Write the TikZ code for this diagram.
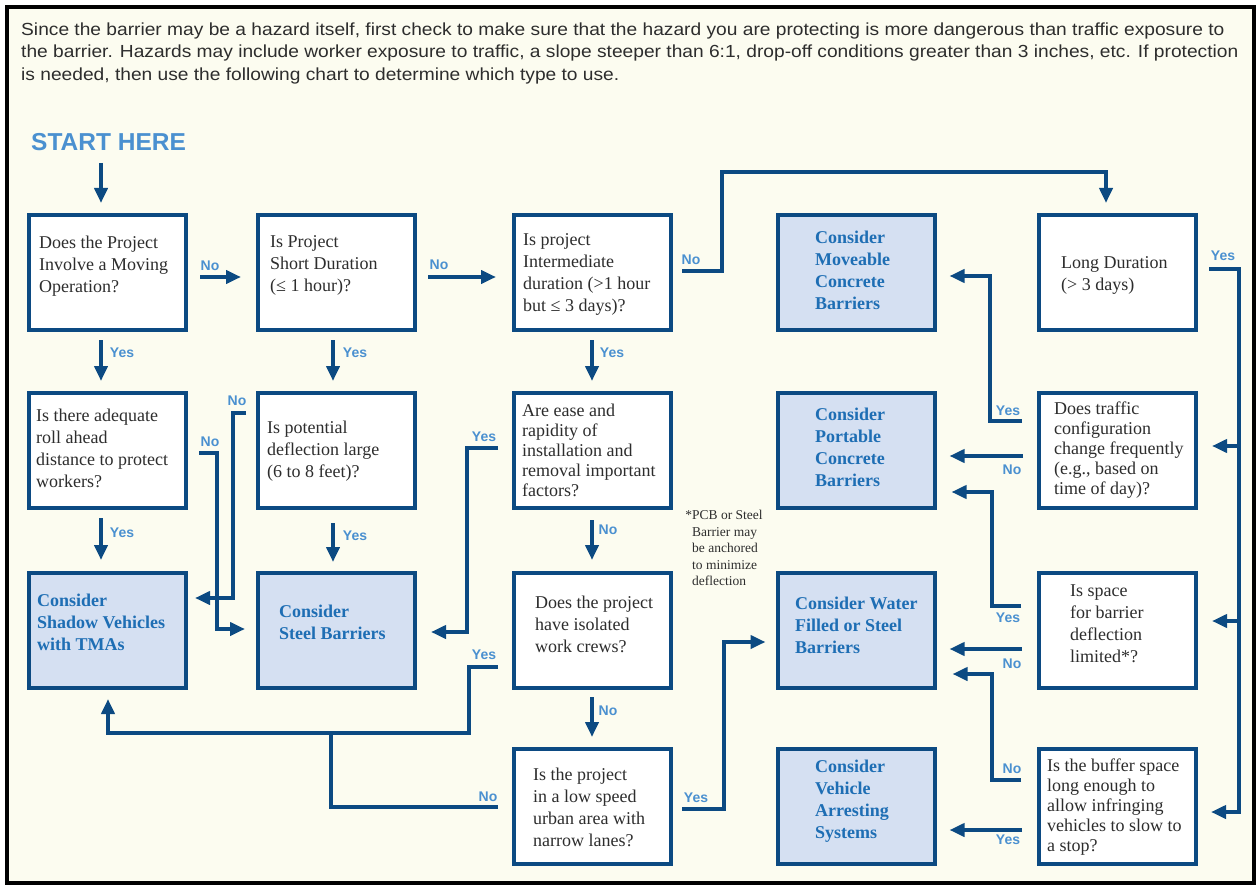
\documentclass[tikz,border=0pt]{standalone}
\usepackage{fontspec}
\setmainfont{Liberation Serif}
\newfontfamily\arialf{Liberation Sans}
\newfontfamily\arialw[FakeStretch=1.096]{Liberation Sans}
\usetikzlibrary{arrows.meta,calc}
\definecolor{navy}{RGB}{12,74,130}
\definecolor{lblue}{RGB}{74,144,208}
\definecolor{bblue}{RGB}{30,110,180}
\definecolor{boxfill}{RGB}{213,224,242}
\definecolor{cream}{RGB}{252,252,240}
\definecolor{txt}{RGB}{45,45,45}
\begin{document}
\begin{tikzpicture}[x=1pt,y=-1pt,
  qbox/.style={draw=navy,line width=4pt,fill=white,minimum width=157pt,minimum height=115pt,inner sep=0pt,outer sep=2pt},
  cbox/.style={qbox,fill=boxfill},
  qtext/.style={anchor=west,align=left,inner sep=0pt,text=txt,font=\fontsize{18}{22}\selectfont},
  qtextt/.style={qtext,font=\fontsize{18}{20}\selectfont},
  btext/.style={anchor=west,align=left,inner sep=0pt,text=bblue,font=\bfseries\fontsize{18}{22}\selectfont},
  lbl/.style={inner sep=0pt,text=lblue,font=\arialf\bfseries\fontsize{14}{14}\selectfont},
  arr/.style={draw=navy,line width=4pt,-{Triangle[length=15pt,width=13pt]}},
  ln/.style={draw=navy,line width=4pt}
]
\useasboundingbox (0,0) rectangle (1259,888);
\fill[white] (0,0) rectangle (1259,888);
\draw[line width=4.5pt,fill=cream] (7,7) rectangle (1254,883);

% intro text
\node[anchor=north west,align=left,inner sep=0pt,text=txt,font=\arialw\fontsize{17.5}{22.7}\selectfont] (intro) at (21,22.2)
 {Since the barrier may be a hazard itself, first check to make sure that the hazard you are protecting is more dangerous than traffic exposure to\\
  the barrier. Hazards may include worker exposure to traffic, a slope steeper than 6:1, drop-off conditions greater than 3 inches, etc. If protection\\
  is needed, then use the following chart to determine which type to use.};

\node[anchor=base west,inner sep=0pt,text=lblue,font=\arialf\bfseries\fontsize{24.5}{26}\selectfont] (start) at (31,151) {START HERE};

% boxes
\node[qbox] (A) at (107.5,272.5) {};
\node[qbox] (B) at (336.5,272.5) {};
\node[qbox] (C) at (592.5,272.5) {};
\node[cbox] (D) at (856,272.5) {};
\node[qbox] (E) at (1117.5,272.5) {};
\node[qbox] (F) at (107.5,450.5) {};
\node[qbox] (G) at (336.5,450.5) {};
\node[qbox] (H) at (592.5,450.5) {};
\node[cbox] (I) at (856,450.5) {};
\node[qbox] (J) at (1117.5,450.5) {};
\node[cbox] (K) at (107.5,630.5) {};
\node[cbox] (L) at (336.5,630.5) {};
\node[qbox] (M) at (592.5,630.5) {};
\node[cbox] (N) at (856,630.5) {};
\node[qbox] (O) at (1117.5,630.5) {};
\node[qbox] (P) at (592.5,806.5) {};
\node[cbox] (Q) at (856,806.5) {};
\node[qbox] (R) at (1117.5,806.5) {};

% box texts
\node[qtext] (At) at (39,266) {Does the Project\\Involve a Moving\\Operation?};
\node[qtext] (Bt) at (270,265) {Is Project\\Short Duration\\(≤ 1 hour)?};
\node[qtext] (Ct) at (523,274) {Is project\\Intermediate\\duration (>1 hour\\but ≤ 3 days)?};
\node[btext] (Dt) at (815,270) {Consider\\Moveable\\Concrete\\Barriers};
\node[qtext] (Et) at (1061,275) {Long Duration\\(> 3 days)};
\node[qtext] (Ft) at (36,448) {Is there adequate\\roll ahead\\distance to protect\\workers?};
\node[qtext] (Gt) at (267,451) {Is potential\\deflection large\\(6 to 8 feet)?};
\node[qtextt] (Ht) at (522,450) {Are ease and\\rapidity of\\installation and\\removal important\\factors?};
\node[btext] (It) at (815,447) {Consider\\Portable\\Concrete\\Barriers};
\node[qtextt] (Jt) at (1054,450) {Does traffic\\configuration\\change frequently\\(e.g., based on\\time of day)?};
\node[btext] (Kt) at (37,622) {Consider\\Shadow Vehicles\\with TMAs};
\node[btext] (Lt) at (279,622) {Consider\\Steel Barriers};
\node[qtext] (Mt) at (535,624) {Does the project\\have isolated\\work crews?};
\node[btext] (Nt) at (795,625) {Consider Water\\Filled or Steel\\Barriers};
\node[qtext] (Ot) at (1070,624) {Is space\\for barrier\\deflection\\limited*?};
\node[qtext] (Pt) at (533,807) {Is the project\\in a low speed\\urban area with\\narrow lanes?};
\node[btext] (Qt) at (815,801) {Consider\\Vehicle\\Arresting\\Systems};
\node[qtextt] (Rt) at (1047,807) {Is the buffer space\\long enough to\\allow infringing\\vehicles to slow to\\a stop?};

% footnote
\node[anchor=west,align=left,inner sep=0pt,text=txt,font=\fontsize{13.5}{16.5}\selectfont] (note) at (692,548)
 {\llap{*}PCB or Steel\\Barrier may\\be anchored\\to minimize\\deflection};

% connectors
\coordinate (s0) at (101,163);
\draw[arr] (s0) -- ($(A.north)+(-6.5,-10)$);
\draw[arr] ($(A.east)+(12,4.5)$) -- ($(B.west)+(-15,4.5)$);
\draw[arr] ($(B.east)+(11,4.5)$) -- ($(C.west)+(-16,4.5)$);
\coordinate (ce) at (722,172);
\draw[arr] ($(C.east)+(9,-1.5)$) -| (ce) -| ($(E.north)+(-11.5,-10)$);
\draw[arr] ($(A.south)+(-6.5,8)$) -- ($(F.north)+(-6.5,-10)$);
\draw[arr] ($(B.south)+(-3.5,8)$) -- ($(G.north)+(-3.5,-10)$);
\draw[arr] ($(C.south)+(-0.5,8)$) -- ($(H.north)+(-0.5,-10)$);
\draw[arr] ($(F.south)+(-6.5,8)$) -- ($(K.north)+(-6.5,-11)$);
\draw[arr] ($(G.south)+(-3.5,13)$) -- ($(L.north)+(-3.5,-9)$);
\draw[arr] ($(H.south)+(-0.5,10)$) -- ($(M.north)+(-0.5,-11)$);
\draw[arr] ($(M.south)+(-0.5,7)$) -- ($(P.north)+(-0.5,-10)$);
\draw[arr] ($(F.east)+(11,2.5)$) -- ++(18,0) |- ($(L.west)+(-11,-1.5)$);
\draw[arr] ($(G.west)+(-10,-37.5)$) -- ++(-13,0) |- ($(K.east)+(7,-32.5)$);
\draw[arr] ($(H.west)+(-14,-2.5)$) -- ++(-31,0) |- ($(L.east)+(14,1.5)$);
\coordinate (kj) at ($(K.south)+(0.5,43)$);
\draw[arr] ($(M.west)+(-14,36.5)$) -- ++(-29,0) |- (kj) -- ($(K.south)+(0.5,9)$);
\coordinate (pj) at (331,734);
\draw[ln] ($(P.west)+(-14,0.5)$) -| (pj);
\draw[arr] ($(P.east)+(9,2.5)$) -- ++(42,0) |- ($(N.west)+(-10,11.5)$);
\coordinate (bus) at ($(R.east)+(41,5.5)$);
\draw[arr] ($(E.east)+(11,-3.5)$) -| (bus) -- ($(R.east)+(13,5.5)$);
\draw[arr] ($(J.east)+(41,-4.5)$) -- ($(J.east)+(14,-4.5)$);
\draw[arr] ($(O.east)+(41,-9.5)$) -- ($(O.east)+(14,-9.5)$);
\draw[arr] ($(J.west)+(-15,-29.5)$) -- ++(-32,0) |- ($(D.east)+(13,3.5)$);
\draw[arr] ($(J.west)+(-14,5.5)$) -- ($(I.east)+(13,5.5)$);
\draw[arr] ($(O.west)+(-16,-24.5)$) -- ++(-29,0) |- ($(I.east)+(15,41.5)$);
\draw[arr] ($(O.west)+(-15,18.5)$) -- ($(N.east)+(13,18.5)$);
\draw[arr] ($(R.west)+(-16,-26.5)$) -- ++(-29,0) |- ($(N.east)+(16,43.5)$);
\draw[arr] ($(R.west)+(-15,23.5)$) -- ($(Q.east)+(13,23.5)$);

% labels
\node[lbl] (l1) at (210,266) {No};
\node[lbl] (l2) at (439,265) {No};
\node[lbl] (l3) at (691,260) {No};
\node[lbl] (l4) at (122,353) {Yes};
\node[lbl] (l5) at (355,353) {Yes};
\node[lbl] (l6) at (612,353) {Yes};
\node[lbl] (l7) at (122,533) {Yes};
\node[lbl] (l8) at (355,536) {Yes};
\node[lbl] (l9) at (608,530) {No};
\node[lbl] (l10) at (608,711) {No};
\node[lbl] (l11) at (210,442) {No};
\node[lbl] (l12) at (237,401) {No};
\node[lbl] (l13) at (484,437) {Yes};
\node[lbl] (l14) at (484,655) {Yes};
\node[lbl] (l15) at (488,797) {No};
\node[lbl] (l16) at (696,798) {Yes};
\node[lbl] (l17) at (1223,256) {Yes};
\node[lbl] (l18) at (1008,411) {Yes};
\node[lbl] (l19) at (1012,470) {No};
\node[lbl] (l20) at (1008,618) {Yes};
\node[lbl] (l21) at (1012,664) {No};
\node[lbl] (l22) at (1012,769) {No};
\node[lbl] (l23) at (1008,840) {Yes};
\end{tikzpicture}
\end{document}
